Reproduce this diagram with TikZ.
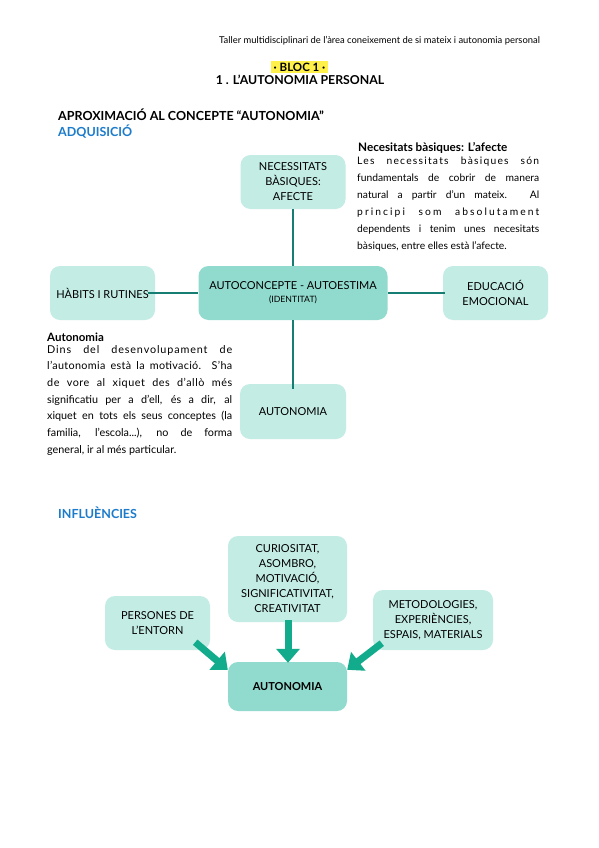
\documentclass[tikz,border=0pt]{standalone}
\usepackage{fontspec}
\setmainfont{Lato}
\usetikzlibrary{arrows.meta}
\definecolor{boxlight}{HTML}{C3ECE4}
\definecolor{boxdark}{HTML}{91DBCE}
\definecolor{linkteal}{HTML}{157D72}
\definecolor{arrowgreen}{HTML}{12AC8C}
\definecolor{headblue}{HTML}{1C7CCB}
\definecolor{hilite}{HTML}{FFF04A}
\newcommand{\spreadtxt}[2]{{\addfontfeatures{LetterSpace=#1}#2}}
\begin{document}
\begin{tikzpicture}[x=1pt,y=-1pt,
  lightbox/.style={rectangle,rounded corners=10pt,fill=boxlight,align=center,inner sep=2pt,font=\fontsize{11}{15}\selectfont},
  darkbox/.style={lightbox,fill=boxdark},
  link/.style={draw=linkteal,line width=2.4pt},
  bigarrow/.style={draw=arrowgreen,line width=7pt,-{Triangle[width=23pt,length=14pt]}},
  heading/.style={anchor=west,inner sep=0pt,font=\fontsize{12.5}{14}\selectfont\bfseries},
  para/.style={anchor=north west,inner sep=0pt,text width=#1,align=justify,font=\fontsize{10.3}{17}\selectfont}]
\useasboundingbox (0,0) rectangle (599,848);
\fill[white] (0,0) rectangle (599,848);
% header
\node[anchor=west,inner sep=0pt,font=\fontsize{9.4}{10}\selectfont] (hdr) at (219,41) {Taller multidisciplinari de l'àrea coneixement de si mateix i autonomia personal};
\node[fill=hilite,inner sep=0pt,minimum width=57pt,minimum height=12pt,font=\fontsize{11.5}{12}\selectfont\bfseries] (bloc) at (299.5,67) {· BLOC 1 ·};
\node[inner sep=0pt,font=\fontsize{12.3}{14}\selectfont\bfseries] (tit) at (300,80) {1 . L'AUTONOMIA PERSONAL};
\node[heading] (aprox) at (58,115) {APROXIMACIÓ AL CONCEPTE “AUTONOMIA”};
\node[heading,text=headblue] (adq) at (58,132) {ADQUISICIÓ};
\node[heading,text=headblue] (infl) at (58,513) {INFLUÈNCIES};
% first diagram
\node[lightbox,minimum width=105pt,minimum height=54pt] (nec) at (293,182) {NECESSITATS\\BÀSIQUES:\\AFECTE};
\node[darkbox,minimum width=189pt,minimum height=54pt] (auto) at (293,293) {AUTOCONCEPTE - AUTOESTIMA\\[-2pt]{\fontsize{8.7}{10}\selectfont(IDENTITAT)}};
\node[lightbox,minimum width=105pt,minimum height=54pt] (hab) at (102.5,293) {HÀBITS I RUTINES};
\node[lightbox,minimum width=105pt,minimum height=54pt] (edu) at (495.5,293) {EDUCACIÓ\\EMOCIONAL};
\node[lightbox,minimum width=106pt,minimum height=55pt] (aut1) at (293,411.5) {AUTONOMIA};
\draw[link] (nec.south) -- (auto.north);
\draw[link] (auto.south) -- ([yshift=-5pt]aut1.north);
\draw[link] ([xshift=-7pt]hab.east) -- (auto.west);
\draw[link] (auto.east) -- ([xshift=2pt]edu.west);
% paragraphs
\node[anchor=west,inner sep=0pt,font=\fontsize{11.7}{12}\selectfont\bfseries] (nbt) at (358,148) {Necesitats bàsiques: L'afecte};
\node[para=182pt] (nbp) at (357,157) {\spreadtxt{12}{Les necessitats bàsiques són}\linebreak fundamentals de cobrir de manera\linebreak natural a partir d'un mateix. Al\linebreak \spreadtxt{20}{principi som absolutament}\linebreak dependents i tenim unes necesitats\linebreak bàsiques, entre elles està l'afecte.};
\node[anchor=west,inner sep=0pt,font=\fontsize{11.5}{12}\selectfont\bfseries] (aut) at (47,337) {Autonomia};
\node[para=185pt,font=\fontsize{10.8}{16.7}\selectfont] (autp) at (47,345) {\spreadtxt{8}{Dins del desenvolupament de}\linebreak \spreadtxt{3}{l'autonomia està la motivació. S'ha}\linebreak \spreadtxt{5}{de vore al xiquet des d'allò més}\linebreak significatiu per a d'ell, és a dir, al\linebreak xiquet en tots els seus conceptes (la\linebreak familia, l'escola...), no de forma\linebreak general, ir al més particular.};
% second diagram
\node[lightbox,minimum width=119pt,minimum height=86pt] (cur) at (287.5,579) {CURIOSITAT,\\ASOMBRO,\\MOTIVACIÓ,\\SIGNIFICATIVITAT,\\CREATIVITAT};
\node[lightbox,minimum width=105pt,minimum height=54pt] (pers) at (157.5,623) {PERSONES DE\\L'ENTORN};
\node[lightbox,minimum width=120pt,minimum height=60pt] (met) at (433,620) {METODOLOGIES,\\EXPERIÈNCIES,\\ESPAIS, MATERIALS};
\node[darkbox,minimum width=119pt,minimum height=49pt,font=\fontsize{11}{15}\selectfont\bfseries] (aut2) at (287.5,686.5) {AUTONOMIA};
\draw[bigarrow] ([xshift=0.5pt,yshift=2pt]cur.south) -- ([xshift=0.5pt,yshift=-1pt]aut2.north);
\draw[bigarrow] ([xshift=-15pt,yshift=8pt]pers.south east) -- ([yshift=-8pt]aut2.north west);
\draw[bigarrow] ([xshift=9pt,yshift=7pt]met.south west) -- ([yshift=-8pt]aut2.north east);
\end{tikzpicture}
\end{document}
